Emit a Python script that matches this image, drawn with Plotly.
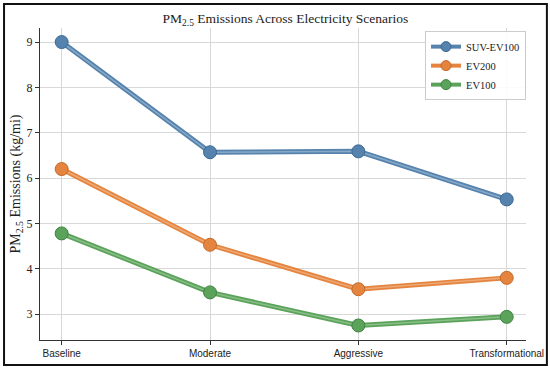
import plotly.graph_objects as go

scenarios = ["Baseline", "Moderate", "Aggressive", "Transformational"]
suv_ev100 = [9.0, 6.57, 6.59, 5.53]
ev200 = [6.2, 4.53, 3.55, 3.8]
ev100 = [4.78, 3.48, 2.75, 2.94]
series = [("SUV-EV100", suv_ev100, "#5683ad", "#3d6a93", "#a9c3dc"),
          ("EV200", ev200, "#e5843f", "#c2692a", "#f3c197"),
          ("EV100", ev100, "#5ba25b", "#3f8240", "#a9d3a6")]
y_ticks = [3, 4, 5, 6, 7, 8, 9]

fig = go.Figure()
xs = list(range(len(scenarios)))
for name, vals, col, edge, light in series:
    fig.add_trace(go.Scatter(
        x=xs, y=vals, name=name, mode="lines", legendgroup=name, showlegend=False,
        line=dict(color=col, width=5),
    ))
    fig.add_trace(go.Scatter(
        x=xs, y=vals, mode="lines", legendgroup=name, showlegend=False,
        line=dict(color=light, width=1.5), opacity=0.6, hoverinfo="skip",
    ))
    fig.add_trace(go.Scatter(
        x=xs, y=vals, mode="markers", name=name, legendgroup=name, showlegend=False,
        marker=dict(size=13, color=col, line=dict(color=edge, width=1)),
    ))
    fig.add_trace(go.Scatter(
        x=[None], y=[None], mode="lines+markers", name=name, legendgroup=name,
        line=dict(color=col, width=4),
        marker=dict(size=10, color=col, line=dict(color=edge, width=1)),
    ))

fig.update_layout(
    width=550, height=371,
    margin=dict(l=40, r=24, t=28, b=31),
    paper_bgcolor="white", plot_bgcolor="white",
    title=dict(text="PM<sub>2.5</sub> Emissions Across Electricity Scenarios",
               xref="paper", x=0.505, xanchor="center", y=0.951, yanchor="middle",
               font=dict(family="Liberation Serif", size=13.5, color="#222")),
    xaxis=dict(range=[-0.146, 3.13], tickmode="array", tickvals=xs,
               ticktext=scenarios, showgrid=True, gridcolor="#d8d8d8", gridwidth=1,
               showline=True, linecolor="#333", linewidth=1, ticks="outside",
               ticklen=4, tickcolor="#333", zeroline=False, automargin=False,
               tickfont=dict(family="Liberation Sans", size=10, color="#222")),
    yaxis=dict(range=[2.43, 9.31], tickmode="array", tickvals=y_ticks,
               showgrid=True, gridcolor="#d8d8d8", gridwidth=1,
               showline=True, linecolor="#333", linewidth=1, ticks="outside",
               ticklen=4, tickcolor="#333", zeroline=False, automargin=False,
               tickfont=dict(family="Liberation Serif", size=12, color="#222"),
               title=dict(text="PM<sub>2.5</sub> Emissions (kg/mi)", standoff=2,
                          font=dict(family="Liberation Serif", size=14, color="#222"))),
    legend=dict(x=1.0, xanchor="right", y=0.99, yanchor="top",
                bgcolor="rgba(255,255,255,0.9)", bordercolor="#cccccc", borderwidth=1,
                font=dict(family="Liberation Serif", size=10.5, color="#222"),
                tracegroupgap=0, itemwidth=30),
    showlegend=True,
    shapes=[dict(type="rect", xref="paper", yref="paper",
                 x0=-0.074, x1=1.043, y0=-0.080, y1=1.077,
                 line=dict(color="#111", width=2), layer="above")],
)

fig.write_html("out.html", config={"displayModeBar": False},
               post_script="document.body.style.margin='0';document.body.style.overflow='hidden';")
